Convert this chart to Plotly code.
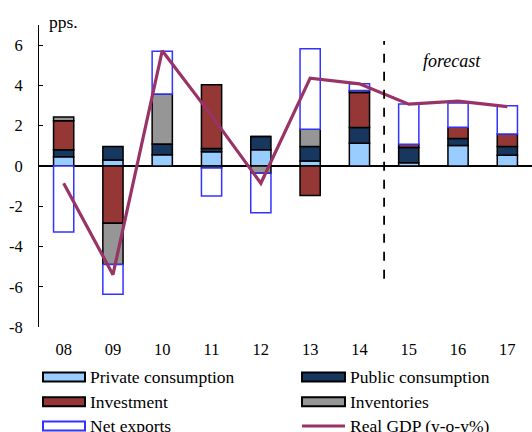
import plotly.graph_objects as go

years = ["08", "09", "10", "11", "12", "13", "14", "15", "16", "17"]
private_consumption = [0.45, 0.30, 0.55, 0.70, 0.80, 0.24, 1.13, 0.16, 1.01, 0.53]
public_consumption = [0.35, 0.66, 0.54, 0.17, 0.66, 0.72, 0.78, 0.75, 0.35, 0.43]
investment = [1.45, -2.85, 0.0, 3.16, 0.0, -1.47, 1.74, 0.17, 0.56, 0.62]
inventories = [0.18, -2.04, 2.48, -0.10, -0.36, 0.86, 0.10, 0.0, 0.0, 0.0]
net_exports = [-3.28, -1.48, 2.12, -1.39, -1.96, 4.00, 0.33, 1.99, 1.20, 1.41]
real_gdp = [-0.86, -5.40, 5.72, 2.50, -0.86, 4.36, 4.08, 3.07, 3.22, 2.95]

y_ticks = [-8, -6, -4, -2, 0, 2, 4, 6]
legend_labels = ["Private consumption", "Public consumption", "Investment",
                 "Inventories", "Net exports", "Real GDP (y-o-y%)"]

FONT = "Liberation Serif"
C_PRIV = "#99CCFF"
C_PUB = "#17375E"
C_INV = "#953735"
C_STK = "#969696"
C_NX = "#3333FF"
C_GDP = "#993366"

W, H = 532, 432
ML, MR, MT, MB = 39, 0, 25, 105
PW, PH = W - ML - MR, H - MT - MB

def px_x(x):
    return (x - ML) / PW

def px_y(y):
    return 1 - (y - MT) / PH

fig = go.Figure()
bw = 0.41
fig.add_bar(x=years, y=private_consumption, name=legend_labels[0], width=bw,
            marker=dict(color=C_PRIV, line=dict(color="black", width=1.5)))
fig.add_bar(x=years, y=public_consumption, name=legend_labels[1], width=bw,
            marker=dict(color=C_PUB, line=dict(color="black", width=1.5)))
fig.add_bar(x=years, y=investment, name=legend_labels[2], width=bw,
            marker=dict(color=C_INV, line=dict(color="black", width=1.5)))
fig.add_bar(x=years, y=inventories, name=legend_labels[3], width=bw,
            marker=dict(color=C_STK, line=dict(color="black", width=1.5)))
fig.add_bar(x=years, y=net_exports, name=legend_labels[4], width=bw,
            marker=dict(color="white", line=dict(color=C_NX, width=1.5)))
fig.add_scatter(x=years, y=real_gdp, name=legend_labels[5], mode="lines",
                line=dict(color=C_GDP, width=3.2))

fig.update_layout(
    width=W, height=H,
    margin=dict(l=ML, r=MR, t=MT, b=MB),
    barmode="relative",
    showlegend=False,
    plot_bgcolor="white", paper_bgcolor="white",
    font=dict(family=FONT, size=16, color="black"),
    xaxis=dict(type="category", range=[-0.5, 9.5], showline=False, ticks="",
               showgrid=False, zeroline=False, ticklabelstandoff=10,
               tickfont=dict(family=FONT, size=16.5)),
    xaxis2=dict(overlaying="x", anchor="free", position=8 / 15, range=[-0.5, 9.5],
                tickvals=[i + 0.5 for i in range(len(years) - 1)], ticks="inside",
                ticklen=4, tickcolor="black", tickwidth=1, showticklabels=False,
                showline=False, showgrid=False, zeroline=False),
    yaxis=dict(range=[-8, 7], tickvals=y_ticks, ticktext=[str(v) for v in y_ticks],
               showline=True, linecolor="black", linewidth=1, ticks="inside",
               ticklen=4, tickcolor="black", showgrid=False, zeroline=True,
               zerolinecolor="black", zerolinewidth=1.5, ticklabelstandoff=12,
               tickfont=dict(family=FONT, size=16.5)),
)

# forecast divider (between 14 and 15)
fig.add_shape(type="line", x0=6.5, x1=6.5, y0=-5.6, y1=6.2, xref="x", yref="y",
              line=dict(color="black", width=1.8, dash="dash"))
fig.add_annotation(x=7.88, y=5.2, xref="x", yref="y", text="<i>forecast</i>",
                   showarrow=False, font=dict(family=FONT, size=18))
fig.add_annotation(x=px_x(47), y=px_y(22), xref="paper", yref="paper", text="pps.",
                   showarrow=False, xanchor="left", yanchor="middle",
                   font=dict(family=FONT, size=17.5))

# manual legend
cols = [(43, 85, 88), (302, 345, 348)]
rows = [377, 401.7, 426]
fills = [C_PRIV, C_PUB, C_INV, C_STK, "white", None]
borders = ["black", "black", "black", "black", C_NX, None]
for i, lab in enumerate(legend_labels):
    r, c = divmod(i, 2)
    x0, x1, xt = cols[c]
    yc = rows[r]
    if fills[i] is not None:
        fig.add_shape(type="rect", xref="paper", yref="paper",
                      x0=px_x(x0), x1=px_x(x1), y0=px_y(yc + 4.5), y1=px_y(yc - 4.5),
                      fillcolor=fills[i], line=dict(color=borders[i], width=2))
    else:
        fig.add_shape(type="line", xref="paper", yref="paper",
                      x0=px_x(x0), x1=px_x(x1), y0=px_y(yc), y1=px_y(yc),
                      line=dict(color=C_GDP, width=3))
    fig.add_annotation(x=px_x(xt), y=px_y(yc), xref="paper", yref="paper", text=lab,
                       showarrow=False, xanchor="left", yanchor="middle",
                       font=dict(family=FONT, size=17.5))

fig.write_html("out.html")
